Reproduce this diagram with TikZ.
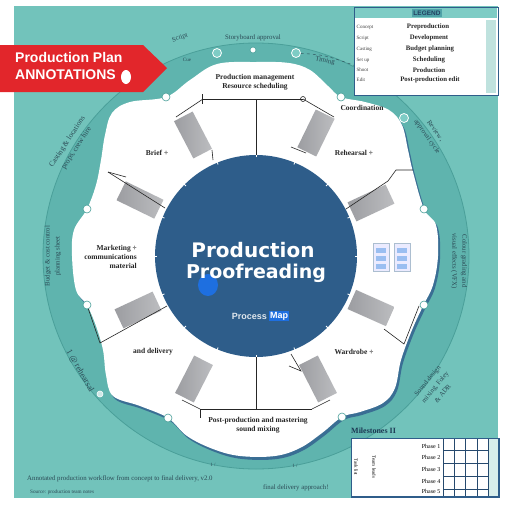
\documentclass[tikz,border=0pt]{standalone}
\usepackage{fontspec}
\usetikzlibrary{calc}
\setmainfont{Liberation Serif}
\newfontfamily\hubfont{DejaVu Sans}
\newfontfamily\sansfont{Liberation Sans}
\definecolor{bgteal}{HTML}{72C3BB}
\definecolor{ringteal}{HTML}{5FB4AE}
\definecolor{ringedge}{HTML}{4A9F99}
\definecolor{hubblue}{HTML}{2E5D8A}
\definecolor{shadowblue}{HTML}{3A6E94}
\definecolor{barA}{HTML}{BCBDC0}
\definecolor{barB}{HTML}{9C9DA1}
\definecolor{bannerred}{HTML}{E2262B}
\definecolor{tblue}{HTML}{2F5D8A}
\definecolor{headteal}{HTML}{7ECCC5}
\definecolor{tabteal}{HTML}{4FA2A8}
\definecolor{ringtext}{HTML}{2B4A55}
\definecolor{brightblue}{HTML}{1E6FE0}
\definecolor{scrollteal}{HTML}{BFE2DE}
\begin{document}
\begin{tikzpicture}[x=1pt,y=-1pt,
  graybar/.style={draw=none, left color=barB, right color=barA, minimum width=42pt, minimum height=21pt, inner sep=0pt},
  ringdot/.style={circle, fill=white, draw=ringedge, line width=0.6pt, minimum size=8pt, inner sep=0pt},
  softdot/.style={circle, fill=headteal, draw=white, line width=0.8pt, minimum size=9pt, inner sep=0pt},
  seglabel/.style={font=\bfseries\fontsize{7.5}{9}\selectfont, text=black!85, inner sep=1pt, align=center},
  ringlabel/.style={font=\fontsize{6.8}{10}\selectfont, text=ringtext, inner sep=0.5pt, align=center},
  blackline/.style={draw=black!85, line width=0.6pt},
  rowsmall/.style={font=\fontsize{5}{6}\selectfont, text=black!75, anchor=west, inner sep=0.5pt},
  rowbold/.style={font=\bfseries\fontsize{6.8}{8}\selectfont, text=black!85, inner sep=0.5pt},
  gridline/.style={draw=tblue!80!black, line width=0.7pt}
]
\useasboundingbox (0,0) rectangle (512,512);
\fill[white] (0,0) rectangle (512,512);
\fill[bgteal] (14,6) rectangle (498,498);
% ring
\fill[ringteal] (256,256) circle[radius=213pt];
\draw[ringedge, line width=0.8pt] (256,256) circle[radius=213pt];
% flower shadow
\fill[shadowblue, shift={(2,3)}] plot[smooth cycle, tension=0.6] coordinates {
 (256,62) (289,63) (310,70) (328,86) (341,97) (365,102) (389,110) (402,125) (408,150) (413,172)
 (424,209) (436,225) (438,256) (433,285) (423,306) (412,330) (401,360) (395,388) (383,403) (360,412)
 (342,417) (322,433) (300,448) (275,456) (240,456) (213,449) (187,436) (168,418) (140,406) (113,396)
 (106,375) (103,350) (96,326) (87,305) (76,290) (72,256) (74,230) (87,209) (96,185) (101,160)
 (105,135) (112,113) (130,102) (166,97) (190,80) (217,64)};
% flower
\fill[white] plot[smooth cycle, tension=0.6] coordinates {
 (256,62) (289,63) (310,70) (328,86) (341,97) (365,102) (389,110) (402,125) (408,150) (413,172)
 (424,209) (436,225) (438,256) (433,285) (423,306) (412,330) (401,360) (395,388) (383,403) (360,412)
 (342,417) (322,433) (300,448) (275,456) (240,456) (213,449) (187,436) (168,418) (140,406) (113,396)
 (106,375) (103,350) (96,326) (87,305) (76,290) (72,256) (74,230) (87,209) (96,185) (101,160)
 (105,135) (112,113) (130,102) (166,97) (190,80) (217,64)};
% hub
\node (hub) [circle, fill=hubblue, minimum size=202pt, inner sep=0pt] at (256,256) {};
\foreach \a in {0,22.5,...,337.5}
  \draw[white, line width=0.8pt] ($(256,256)+(\a:99pt)$) -- ($(256,256)+(\a:105pt)$);
% gray bars
\node (g1) [graybar, rotate=117.5] at (193,135) {};
\node (g2) [graybar, rotate=64] at (316,133) {};
\node (g3) [graybar, rotate=25] at (371,203) {};
\node (g4) [graybar, rotate=-24] at (371,308) {};
\node (g5) [graybar, rotate=-63] at (318,379) {};
\node (g6) [graybar, rotate=-117] at (194,379) {};
\node (g7) [graybar, rotate=-155] at (138,310) {};
\node (g8) [graybar, rotate=154] at (140,200) {};
% thin connector lines
\coordinate (tA) at (203,99); \coordinate (tB) at (303,99); \coordinate (tC) at (256,99);
\draw[blackline] (hub.north) -- (tC);
\draw[blackline] (tA) -- (tB);
\draw[blackline] (202,94) -- (202,104);
\draw[blackline] (tA) -- (176,117);
\draw[blackline] (tB) -- (334,117);
\draw[blackline] (tB) circle[radius=2.5pt];
\coordinate (bA) at (200,409); \coordinate (bB) at (312,409); \coordinate (bC) at (256,409);
\draw[blackline] (hub.south) -- (bC);
\draw[blackline] (bA) -- (bB);
\draw[blackline] (200,409) -- (200,418);
\draw[blackline] (bA) -- (182,400);
\draw[blackline] (bB) -- (330,400);
\draw[blackline] (108,172) -- (165,208);
\draw[blackline] (108,172) -- (126,177);
\draw[blackline] (87,305) -- (100,343) -- (167,306);
\draw[blackline] (346,209) -- (388,181) -- (396,170) -- (413,170);
\draw[blackline] (384,329) -- (404,344) -- (419,306);
\draw[blackline] (291,354) -- (301,371) -- (289,366);
\draw[blackline] (212,150) -- (213,160);
\draw[blackline] (291,147) -- (306,153);
% ring dots
\node (d1) [ringdot] at (166,97) {};
\node (d2) [ringdot] at (341,97) {};
\node (d3) [ringdot] at (424,209) {};
\node (d4) [ringdot] at (424,305) {};
\node (d5) [ringdot] at (342,417) {};
\node (d6) [ringdot] at (168,418) {};
\node (d7) [ringdot] at (87,305) {};
\node (d8) [ringdot] at (87,209) {};
\node (e1) [softdot] at (217,53) {};
\node (e2) [softdot] at (296,53) {};
\node (e3) [softdot] at (404,118) {};
\node (e4) [ringdot, minimum size=6pt] at (253,50) {};
\node (e5) [ringdot, minimum size=6pt, draw=white, fill=white!70!ringteal] at (100,394) {};
\draw[ringtext, dashed, line width=0.4pt] (e2) .. controls (325,55) .. (356,66);
% hub texts
\fill[brightblue] (208,285) ellipse[x radius=10pt, y radius=11pt];
\node (title1) [font=\hubfont\bfseries\fontsize{20}{22}\selectfont, text=white] at (253,250) {Production};
\node (title2) [font=\hubfont\bfseries\fontsize{19}{21}\selectfont, text=white] at (256,273) {Proofreading};
\node (sub) [font=\sansfont\bfseries\fontsize{9}{10}\selectfont, text=white!85!hubblue, anchor=east, inner sep=1pt] at (268,316) {Process};
\node (subtag) [font=\sansfont\bfseries\fontsize{9}{10}\selectfont, text=white, fill=brightblue, anchor=west, inner sep=1pt] at (269,316) {Map};
% segment labels
\node (s1) [seglabel] at (255,82) {Production management\\Resource scheduling};
\node (s2) [seglabel] at (157,153) {Brief ÷};
\node (s3) [seglabel] at (362,108) {Coordination};
\node (s4) [seglabel] at (354,153) {Rehearsal ÷};
\node (s5) [seglabel, align=right, anchor=east] at (138,257) {Marketing ÷\\communications\\material};
\node (s6) [seglabel] at (153,352) {and delivery};
\node (s7) [seglabel] at (354,352) {Wardrobe ÷};
\node (s8) [seglabel] at (258,425) {Post-production and mastering\\sound mixing};
% icons
\node (ic1) [draw=tblue!40, fill=blue!8, minimum width=16pt, minimum height=28pt, inner sep=0pt] at (381,257) {};
\node (ic2) [draw=tblue!40, fill=blue!8, minimum width=16pt, minimum height=28pt, inner sep=0pt] at (402,257) {};
\foreach \yy in {248,256,264} {
  \fill[brightblue!45] (376,\yy) rectangle (386,\yy+5);
  \fill[brightblue!45] (397,\yy) rectangle (407,\yy+5);
}
% ring labels
\node (r1) [ringlabel, rotate=20] at (180,38) {Script};
\node (r2) [ringlabel] at (253,38) {Storyboard approval};
\node (r3) [ringlabel, font=\fontsize{5}{6}\selectfont] at (187,60) {Cue};
\node (r4) [ringlabel, rotate=-12] at (325,61) {Timing};
\node (r5) [ringlabel, rotate=-55] at (431,134) {Review ,\\approval cycle};
\node (r6) [ringlabel, rotate=-90] at (459,261) {Colour grading and\\visual effects (VFX)};
\node (r7) [ringlabel, rotate=50] at (435,387) {Sound design\\mixing, Foley\\\& ADR};
\node (r8) [ringlabel, font=\fontsize{7.5}{11}\selectfont, rotate=57] at (72,145) {Casting \& locations\\props, crew hire};
\node (r9) [ringlabel, rotate=90] at (53,256) {Budget \& cost control\\planning sheet};
\node (r10) [ringlabel, font=\fontsize{8.5}{10}\selectfont, rotate=-60] at (80,371) {1 @ rehearsal};
\node (r11) [ringlabel, font=\fontsize{5}{6}\selectfont] at (213,465) {1 /};
\node (r12) [ringlabel, font=\fontsize{5}{6}\selectfont] at (295,466) {1 /};
% captions
\node (cap1) [font=\fontsize{6.8}{8}\selectfont, text=ringtext, anchor=west, inner sep=0pt] at (27,479) {Annotated production workflow from concept to final delivery, v2.0};
\node (cap2) [font=\fontsize{5.2}{6}\selectfont, text=ringtext, anchor=west, inner sep=0pt] at (30,492) {Source: production team notes};
\node (cap3) [font=\fontsize{6.8}{8}\selectfont, text=ringtext, anchor=west, inner sep=0pt] at (263,488) {final delivery approach!};
% banner
\fill[bannerred] (0,45) -- (143,45) -- (167,68) -- (143,92) -- (0,92) -- cycle;
\node (banner) [font=\sansfont\bfseries\fontsize{14}{17}\selectfont, text=white, align=left, anchor=west, inner sep=0pt] at (15,66) {Production Plan\\ANNOTATIONS};
\fill[white] (126,77) ellipse[x radius=5pt, y radius=7pt];
% key table
\node (key) [draw=tblue, line width=1.2pt, fill=white, minimum width=144pt, minimum height=88pt, inner sep=0pt, anchor=north west] at (354,7) {};
\fill[headteal] (354.6,7.6) rectangle (497.4,18);
\node (keytab) [fill=tabteal, font=\sansfont\bfseries\fontsize{6.5}{7}\selectfont, text=tblue!70!black, minimum width=30pt, minimum height=8pt, inner sep=0pt] at (427,13) {LEGEND};
\fill[scrollteal] (486,20) rectangle (496,93);
\node (k1l) [rowsmall] at (356,27) {Concept};
\node (k2l) [rowsmall] at (356,38) {Script};
\node (k3l) [rowsmall] at (356,49) {Casting};
\node (k4l) [rowsmall] at (356,60) {Set up};
\node (k5l) [rowsmall] at (356,70) {Shoot};
\node (k6l) [rowsmall] at (356,80) {Edit};
\node (k1r) [rowbold] at (428,27) {Preproduction};
\node (k2r) [rowbold] at (429,38) {Development};
\node (k3r) [rowbold] at (430,49) {Budget planning};
\node (k4r) [rowbold] at (429,60) {Scheduling};
\node (k5r) [rowbold] at (429,70) {Production};
\node (k6r) [rowbold] at (430,80) {Post-production edit};
% milestone table
\node (mlabel) [font=\bfseries\fontsize{8}{9}\selectfont, text=tblue!60!black, anchor=west, inner sep=0pt] at (351,431) {Milestones II};
\node (mt) [draw=tblue, line width=1.2pt, fill=white, minimum width=148pt, minimum height=58pt, inner sep=0pt, anchor=north west] at (351,438) {};
\draw[tblue, line width=2pt] (351,497) -- (499,497) -- (499,438);
\fill[scrollteal!60] (488,439) rectangle (498,496);
\foreach \xx in {443,454,465,477,488} \draw[gridline] (\xx,439) -- (\xx,496);
\foreach \yy in {450,463,476,489} \draw[gridline] (443,\yy) -- (488,\yy);
\node (m1) [font=\fontsize{6}{7}\selectfont, anchor=east, inner sep=0.5pt] at (441,446) {Phase 1};
\node (m2) [font=\fontsize{6}{7}\selectfont, anchor=east, inner sep=0.5pt] at (441,457) {Phase 2};
\node (m3) [font=\fontsize{6}{7}\selectfont, anchor=east, inner sep=0.5pt] at (441,469) {Phase 3};
\node (m4) [font=\fontsize{6}{7}\selectfont, anchor=east, inner sep=0.5pt] at (441,481) {Phase 4};
\node (m5) [font=\fontsize{6}{7}\selectfont, anchor=east, inner sep=0.5pt] at (441,491) {Phase 5};
\node (mc1) [font=\fontsize{5}{6}\selectfont, rotate=-90, inner sep=0pt] at (356,467) {Task list};
\node (mc2) [font=\fontsize{5}{6}\selectfont, rotate=-90, inner sep=0pt] at (374,467) {Team leads};
\end{tikzpicture}
\end{document}
